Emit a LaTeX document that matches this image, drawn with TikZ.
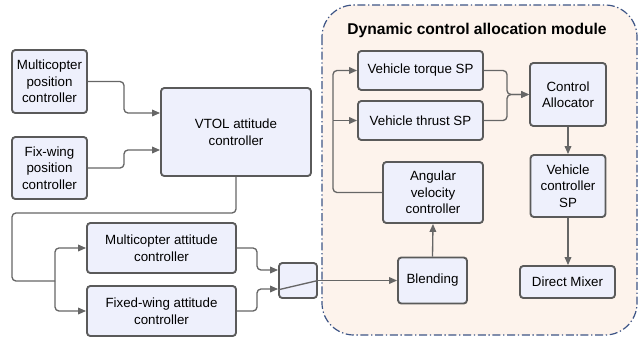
\documentclass[tikz,border=0pt]{standalone}
\usepackage{fontspec}
\setmainfont{Liberation Sans}
\usetikzlibrary{arrows.meta}
\definecolor{boxfill}{HTML}{EEF0FC}
\definecolor{boxline}{HTML}{5A5A5A}
\definecolor{arrline}{HTML}{666666}
\definecolor{modfill}{HTML}{FDF3EC}
\definecolor{modline}{HTML}{3E5586}
\tikzset{
  blk/.style={draw=boxline, fill=boxfill, line width=1.4pt, rounded corners=2.5pt,
    inner sep=0pt, align=center, font=\fontsize{10}{12.4}\selectfont},
  arr/.style={draw=arrline, line width=1pt, rounded corners=3pt,
    -{Triangle[length=6pt,width=5pt]}},
  ln/.style={draw=arrline, line width=1pt, rounded corners=3pt},
  modbox/.style={draw=modline, fill=modfill, line width=0.9pt,
    dash pattern=on 6pt off 2pt on 1pt off 2pt, rounded corners=24pt}
}
\begin{document}
\begin{tikzpicture}[x=0.75pt,y=-0.75pt]
\useasboundingbox (0,0) rectangle (641,339);
% module background
\draw[modbox] (322,5) rectangle (637,335);
\node[font=\bfseries\fontsize{11.7}{14}\selectfont] (title) at (477,30) {Dynamic control allocation module};
% nodes
\node[blk, minimum width=56.25pt, minimum height=47.25pt] (mpc) at (49.5,81.5) {Multicopter\\position\\controller};
\node[blk, minimum width=56.25pt, minimum height=46.5pt] (fpc) at (49.5,168) {Fix-wing\\position\\controller};
\node[blk, minimum width=112.5pt, minimum height=66pt] (vtol) at (236,132) {VTOL attitude\\controller};
\node[blk, minimum width=111.75pt, minimum height=37.5pt] (mac) at (161.5,248) {Multicopter attitude\\controller};
\node[blk, minimum width=111.75pt, minimum height=37.5pt] (fac) at (161.5,311) {Fixed-wing attitude\\controller};
\node[blk, minimum width=28.5pt, minimum height=26.25pt] (sw) at (298,280.5) {};
\node[blk, minimum width=51.75pt, minimum height=34.5pt] (blend) at (432.5,280.5) {Blending};
\node[blk, minimum width=75pt, minimum height=45.75pt] (avc) at (433,192.5) {Angular\\velocity\\controller};
\node[blk, minimum width=93.75pt, minimum height=29.25pt] (vtq) at (420.5,70.5) {Vehicle torque SP};
\node[blk, minimum width=93.75pt, minimum height=29.25pt] (vth) at (420.5,120.5) {Vehicle thrust SP};
\node[blk, minimum width=57pt, minimum height=47.25pt] (ca) at (568,94.5) {Control\\Allocator};
\node[blk, minimum width=56.25pt, minimum height=46.5pt] (vcs) at (568,186) {Vehicle\\controller\\SP};
\node[blk, minimum width=71.25pt, minimum height=24pt] (dm) at (567.5,282) {Direct Mixer};
% junction coordinates
\coordinate (j1) at (55,281);
\coordinate (j2) at (333,120.5);
% connectors
\draw[arr] (mpc.east) -- (124,81.5) |- ([yshift=14.25pt]vtol.west);
\draw[arr] (fpc.east) -- (124,168) |- ([yshift=-13.5pt]vtol.west);
\draw[ln] (vtol.south) -- (236,213) -- (12,213) -- (12,281) -- (j1);
\draw[arr] (j1) |- (mac.west);
\draw[arr] (j1) |- (fac.west);
\draw[arr] (mac.east) -- (257,248) |- ([yshift=7.875pt]sw.west);
\draw[arr] (fac.east) -- (257,311) |- ([yshift=-6.375pt]sw.west);
\draw[ln] ([yshift=-7pt]sw.west) -- (sw.east);
\draw[arr] (sw.east) -- (blend.west);
\draw[arr] (blend.north) -- (avc.south);
\draw[ln] (avc.west) -- (333,192.5) -- (j2);
\draw[arr] (j2) |- (vtq.west);
\draw[arr] (j2) -- (vth.west);
\draw[arr] (vtq.east) -- (507,70.5) |- (ca.west);
\draw[arr] (vth.east) -- (507,120.5) |- (ca.west);
\draw[arr] (ca.south) -- (ca.south |- vcs.north);
\draw[arr] (vcs.south) -- (vcs.south |- dm.north);
\end{tikzpicture}
\end{document}
